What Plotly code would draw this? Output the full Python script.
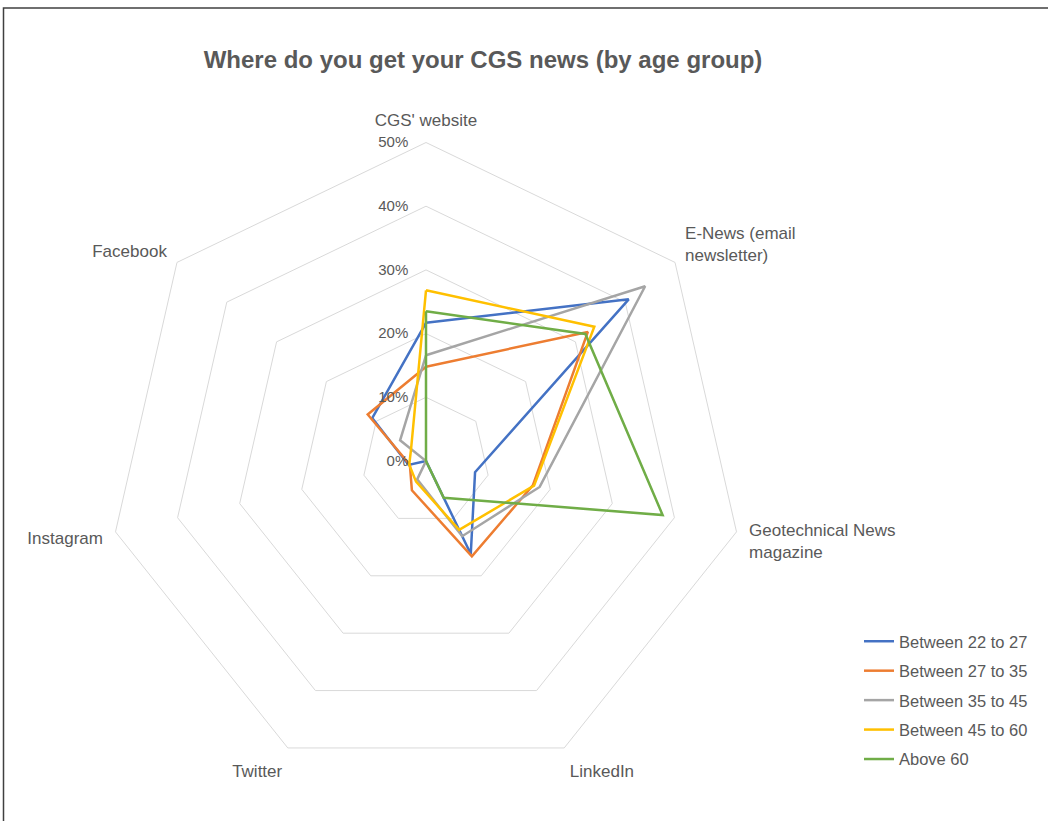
import plotly.graph_objects as go

categories = ["CGS' website", "E-News (email<br>newsletter)", "Geotechnical News<br>magazine",
              "LinkedIn", "Twitter", "Instagram", "Facebook"]

series_names = ["Between 22 to 27", "Between 27 to 35", "Between 35 to 45",
                "Between 45 to 60", "Above 60"]

age_22_27 = [0.217, 0.407, 0.079, 0.162, 0.000, 0.028, 0.108]
age_27_35 = [0.148, 0.325, 0.172, 0.166, 0.051, 0.026, 0.117]
age_35_45 = [0.166, 0.440, 0.183, 0.131, 0.032, 0.000, 0.052]
age_45_60 = [0.268, 0.338, 0.174, 0.120, 0.036, 0.027, 0.030]
above_60 = [0.235, 0.320, 0.381, 0.064, 0.000, 0.000, 0.000]

series_values = [age_22_27, age_27_35, age_35_45, age_45_60, above_60]
colors = ["#4472C4", "#ED7D31", "#A5A5A5", "#FFC000", "#70AD47"]

W, H = 1048, 821
cx, cy, R = 426, 461, 318.5

fig = go.Figure()
for name, vals, col in zip(series_names, series_values, colors):
    fig.add_trace(go.Scatterpolar(
        r=vals + vals[:1], theta=categories + categories[:1],
        mode="lines", name=name, legendgroup=name,
        line=dict(color=col, width=2.5),
    ))

fig.update_layout(
    width=W, height=H,
    margin=dict(l=0, r=0, t=0, b=0),
    paper_bgcolor="white",
    font=dict(family="Liberation Sans, Arial, sans-serif", color="#595959"),
    title=dict(text="<b>Where do you get your CGS news (by age group)</b>",
               x=483 / W, xanchor="center", y=1 - 60 / H, yanchor="middle",
               font=dict(size=24, color="#595959")),
    polar=dict(
        domain=dict(x=[(cx - R) / W, (cx + R) / W],
                    y=[(H - cy - R) / H, (H - cy + R) / H]),
        bgcolor="white",
        gridshape="linear",
        angularaxis=dict(rotation=90, direction="clockwise",
                         showgrid=False, showline=True, linecolor="#d9d9d9", linewidth=1,
                         ticks="outside", ticklen=9, tickcolor="rgba(0,0,0,0)",
                         tickfont=dict(size=17, color="#595959")),
        radialaxis=dict(range=[0, 0.5], dtick=0.1, tickformat=".0%",
                        showline=False, angle=90, side="counterclockwise",
                        tickangle=90, ticks="outside", ticklen=12,
                        tickcolor="rgba(0,0,0,0)",
                        gridcolor="#d9d9d9", gridwidth=1,
                        tickfont=dict(size=15, color="#595959")),
    ),
    legend=dict(x=859 / W, y=1 - 624 / H, xanchor="left", yanchor="top",
                font=dict(size=16.5, color="#595959"), itemwidth=30,
                tracegroupgap=5, bgcolor="rgba(0,0,0,0)"),
    shapes=[dict(type="rect", xref="paper", yref="paper",
                 x0=3.5 / W, x1=1.02, y0=-0.02, y1=1 - 8 / H,
                 line=dict(color="#404040", width=1.5))],
)

fig.write_html("out.html", config={"displayModeBar": False},
               post_script="document.body.style.margin='0';")
